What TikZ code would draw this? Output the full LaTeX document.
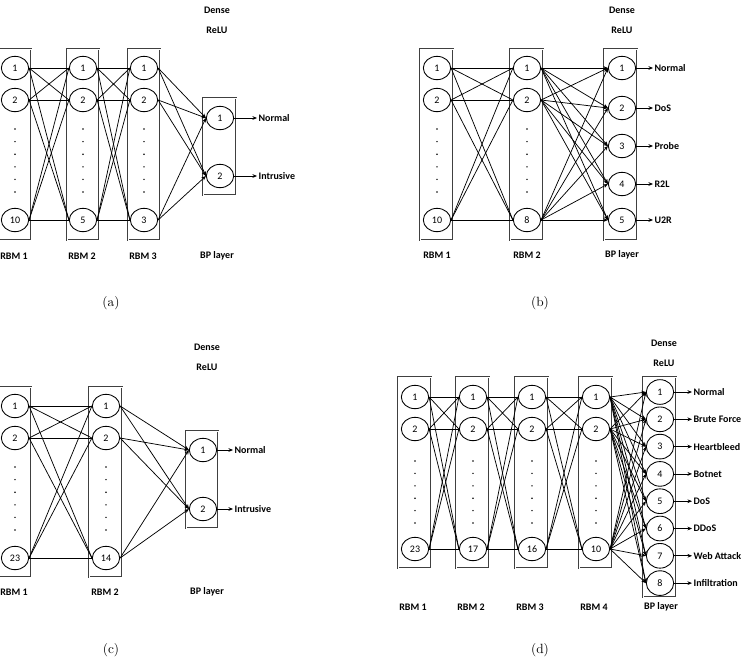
\documentclass[tikz,border=0pt]{standalone}
\usepackage{fontspec}
\newfontfamily\calfont{Carlito}
\usetikzlibrary{arrows.meta,shapes.geometric}

\begin{document}
\begin{tikzpicture}[
    x=0.75pt, y=-0.75pt,
    unit/.style={ellipse, draw, line width=0.65pt, minimum width=20.5pt,
                 minimum height=17.5pt, inner sep=0pt,
                 font=\calfont\fontsize{7.5}{8}\selectfont},
    tag/.style={font=\calfont\bfseries\fontsize{7.5}{9}\selectfont, inner sep=1pt},
    panel/.style={font=\fontsize{10}{12}\selectfont},
    layerbox/.style={draw=black!75, double=white, double distance=0.4pt, line width=0.55pt},
    wire/.style={line width=0.55pt},
    feed/.style={line width=0.55pt, -{Stealth[length=3.4pt,width=2.8pt]}},
    dot/.style={circle, fill, inner sep=0pt, minimum size=1.2pt}
  ]
    \useasboundingbox (0,0) rectangle (744,662);

    % ---------------- (a) ----------------
    \node[tag] (aDense) at (217,10) {Dense};
    \node[tag] (aRelu) at (217,30) {ReLU};
    \foreach \l/\xx/\last in {1/15/10, 2/83/5, 3/144/3} {
      \draw[layerbox] (\xx-16,49) rectangle (\xx+16,240);
      \node[unit] (a\l-1) at (\xx,68) {1};
      \node[unit] (a\l-2) at (\xx,100) {2};
      \node[unit] (a\l-3) at (\xx,220) {\last};
      \foreach \k in {0,...,5}
        \node[dot] (a\l-d\k) at (\xx,{129+12.6*\k}) {};
      \node[tag] (a\l-cap) at (\xx-1,256) {RBM \l};
    }
    \draw[layerbox] (203,98) rectangle (236,195);
    \foreach \r/\yy/\lab in {1/118/Normal, 2/176/Intrusive} {
      \node[unit] (aB-\r) at (220,\yy) {\r};
      \node[tag, anchor=west] (aO-\r) at (257,\yy) {\lab};
      \draw[feed] (aB-\r.east) -- (aO-\r.west);
    }
    \node[tag] (aB-cap) at (217,256) {BP layer};
    \foreach \i in {1,2,3} {
      \foreach \j in {1,2,3} {
        \draw[wire] (a1-\i.east) -- (a2-\j.west);
        \draw[wire] (a2-\i.east) -- (a3-\j.west);
      }
      \foreach \j in {1,2}
        \draw[feed] (a3-\i.east) -- (aB-\j.west);
    }
    \node[panel] (aCap) at (111,303) {(a)};

    % ---------------- (b) ----------------
    \node[tag] (bDense) at (622,10) {Dense};
    \node[tag] (bRelu) at (622,30) {ReLU};
    \foreach \l/\xx/\last in {1/437/10, 2/527/8} {
      \draw[layerbox] (\xx-17,49) rectangle (\xx+16,240);
      \node[unit] (b\l-1) at (\xx,68) {1};
      \node[unit] (b\l-2) at (\xx,100) {2};
      \node[unit] (b\l-3) at (\xx,220) {\last};
      \foreach \k in {0,...,5}
        \node[dot] (b\l-d\k) at (\xx,{129+12.6*\k}) {};
      \node[tag] (b\l-cap) at (\xx,255) {RBM \l};
    }
    \draw[layerbox] (604,49) rectangle (637,240);
    \foreach \r/\yy/\lab in {1/68/Normal, 2/108/DoS, 3/146/Probe, 4/184/R2L, 5/220/U2R} {
      \node[unit] (bB-\r) at (622,\yy) {\r};
      \node[tag, anchor=west] (bO-\r) at (653,\yy) {\lab};
      \draw[feed] (bB-\r.east) -- (bO-\r.west);
    }
    \node[tag] (bB-cap) at (622,255) {BP layer};
    \foreach \i in {1,2,3} {
      \foreach \j in {1,2,3}
        \draw[wire] (b1-\i.east) -- (b2-\j.west);
      \foreach \j in {1,...,5}
        \draw[feed] (b2-\i.east) -- (bB-\j.west);
    }
    \node[panel] (bCap) at (540,303) {(b)};

    % ---------------- (c) ----------------
    \node[tag] (cDense) at (207,347) {Dense};
    \node[tag] (cRelu) at (207,367) {ReLU};
    \foreach \l/\xx/\last in {1/15/23, 2/106/14} {
      \draw[layerbox] (\xx-17,387) rectangle (\xx+16,577);
      \node[unit] (c\l-1) at (\xx,406) {1};
      \node[unit] (c\l-2) at (\xx,438) {2};
      \node[unit] (c\l-3) at (\xx,558) {\last};
      \foreach \k in {0,...,5}
        \node[dot] (c\l-d\k) at (\xx,{467+12.6*\k}) {};
      \node[tag] (c\l-cap) at (\xx-1,592) {RBM \l};
    }
    \draw[layerbox] (186,431) rectangle (218,528);
    \foreach \r/\yy/\lab in {1/450/Normal, 2/509/Intrusive} {
      \node[unit] (cB-\r) at (203,\yy) {\r};
      \node[tag, anchor=west] (cO-\r) at (233,\yy) {\lab};
      \draw[feed] (cB-\r.east) -- (cO-\r.west);
    }
    \node[tag] (cB-cap) at (207,592) {BP layer};
    \foreach \i in {1,2,3} {
      \foreach \j in {1,2,3}
        \draw[wire] (c1-\i.east) -- (c2-\j.west);
      \foreach \j in {1,2}
        \draw[feed] (c2-\i.east) -- (cB-\j.west);
    }
    \node[panel] (cCap) at (111,650) {(c)};

    % ---------------- (d) ----------------
    \node[tag] (dDense) at (664,343) {Dense};
    \node[tag] (dRelu) at (664,363) {ReLU};
    \foreach \l/\xx/\last in {1/415/23, 2/473/17, 3/532/16, 4/596/10} {
      \draw[layerbox] (\xx-17,377) rectangle (\xx+16,568);
      \node[unit] (d\l-1) at (\xx,397) {1};
      \node[unit] (d\l-2) at (\xx,429) {2};
      \node[unit] (d\l-3) at (\xx,549) {\last};
      \foreach \k in {0,...,5}
        \node[dot] (d\l-d\k) at (\xx,{461+12.4*\k}) {};
      \node[tag] (d\l-cap) at (\xx-2,607) {RBM \l};
    }
    \draw[layerbox] (643,377) rectangle (676,597);
    \foreach \r/\lab in {1/Normal, 2/Brute Force, 3/Heartbleed, 4/Botnet,
                         5/DoS, 6/DDoS, 7/Web Attack, 8/Infiltration} {
      \node[unit, minimum height=18.5pt] (dB-\r) at (660,{392+27.3*(\r-1)}) {\r};
      \node[tag, anchor=west] (dO-\r) at (692,{392+27.3*(\r-1)}) {\lab};
      \draw[feed] (dB-\r.east) -- (dO-\r.west);
    }
    \node[tag] (dB-cap) at (661,607) {BP layer};
    \foreach \i in {1,2,3} {
      \foreach \j in {1,2,3} {
        \draw[wire] (d1-\i.east) -- (d2-\j.west);
        \draw[wire] (d2-\i.east) -- (d3-\j.west);
        \draw[wire] (d3-\i.east) -- (d4-\j.west);
      }
      \foreach \j in {1,...,8}
        \draw[feed] (d4-\i.east) -- (dB-\j.west);
    }
    \node[panel] (dCap) at (540,650) {(d)};
\end{tikzpicture}
\end{document}
